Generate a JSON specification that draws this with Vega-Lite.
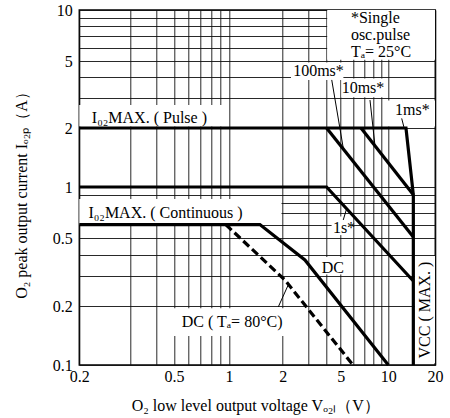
{
  "$schema": "https://vega.github.io/schema/vega-lite/v6.json",
  "width": 356,
  "height": 355,
  "autosize": "none",
  "padding": {"left": 79.3, "top": 10, "right": 14.7, "bottom": 53},
  "background": "white",
  "config": {
    "view": {"stroke": "black", "strokeWidth": 1.5},
    "font": "Liberation Serif",
    "axis": {
      "domain": false,
      "ticks": false,
      "tickSize": 0,
      "grid": true,
      "gridColor": "#111111",
      "gridWidth": 0.9,
      "gridOpacity": 1,
      "labelFont": "Liberation Serif",
      "labelFontSize": 16,
      "labelColor": "black",
      "titleFont": "Liberation Serif",
      "titleFontSize": 16,
      "titleFontWeight": "normal",
      "titleColor": "black",
      "labelOverlap": false,
      "labelFlush": false
    }
  },
  "datasets": {
    "boxes": [
      {"v": 4.04, "v2": 20, "i": 5.08, "i2": 10},
      {"v": 2.28, "v2": 5.2, "i": 3.86, "i2": 4.9},
      {"v": 5.05, "v2": 9.7, "i": 3.05, "i2": 3.94},
      {"v": 9.85, "v2": 20, "i": 2.04, "i2": 2.91},
      {"v": 0.2, "v2": 0.98, "i": 2.04, "i2": 2.74},
      {"v": 0.2, "v2": 1.97, "i": 0.6, "i2": 0.85},
      {"v": 4.33, "v2": 5.9, "i": 0.52, "i2": 0.67},
      {"v": 3.52, "v2": 5.4, "i": 0.306, "i2": 0.387},
      {"v": 0.487, "v2": 2.55, "i": 0.1406, "i2": 0.195},
      {"v": 14.8, "v2": 20, "i": 0.1024, "i2": 0.392}
    ],
    "curves": [
      {"id": "pulse", "ord": 0, "v": 0.2, "i": 2},
      {"id": "pulse", "ord": 1, "v": 13.0, "i": 2},
      {"id": "pulse", "ord": 2, "v": 14.5, "i": 0.9},
      {"id": "pulse", "ord": 3, "v": 14.5, "i": 0.1},
      {"id": "10ms", "ord": 0, "v": 6.72, "i": 2},
      {"id": "10ms", "ord": 1, "v": 14.5, "i": 0.9},
      {"id": "100ms", "ord": 0, "v": 4, "i": 2},
      {"id": "100ms", "ord": 1, "v": 14.5, "i": 0.507},
      {"id": "1s", "ord": 0, "v": 0.2, "i": 1},
      {"id": "1s", "ord": 1, "v": 4, "i": 1},
      {"id": "1s", "ord": 2, "v": 14.5, "i": 0.28},
      {"id": "dc", "ord": 0, "v": 0.2, "i": 0.6},
      {"id": "dc", "ord": 1, "v": 1.49, "i": 0.6},
      {"id": "dc", "ord": 2, "v": 2.84, "i": 0.372},
      {"id": "dc", "ord": 3, "v": 10, "i": 0.1}
    ],
    "dashed": [
      {"id": "dc80", "ord": 0, "v": 0.96, "i": 0.6},
      {"id": "dc80", "ord": 1, "v": 2.07, "i": 0.284},
      {"id": "dc80", "ord": 2, "v": 5.98, "i": 0.1}
    ],
    "leaders": [
      {"id": "l100", "ord": 0, "v": 4.34, "i": 3.86},
      {"id": "l100", "ord": 1, "v": 5.21, "i": 1.55},
      {"id": "l10", "ord": 0, "v": 7.66, "i": 2.93},
      {"id": "l10", "ord": 1, "v": 8.24, "i": 1.62},
      {"id": "l1", "ord": 0, "v": 12.2, "i": 2.28},
      {"id": "l1", "ord": 1, "v": 12.6, "i": 2.03},
      {"id": "l1s", "ord": 0, "v": 5.19, "i": 0.639},
      {"id": "l1s", "ord": 1, "v": 5.46, "i": 0.749},
      {"id": "l80", "ord": 0, "v": 1.89, "i": 0.198},
      {"id": "l80", "ord": 1, "v": 2.18, "i": 0.265}
    ],
    "labels": [
      {"v": 0.221, "i": 2.13, "t": "I₀₂MAX.  ( Pulse )"},
      {"v": 0.215, "i": 0.653, "t": "I₀₂MAX.  (  Continuous  )"},
      {"v": 5.8, "i": 8.35, "t": "*Single\nosc.pulse\nTₐ=  25°C"},
      {"v": 2.36, "i": 4.07, "t": "100ms*"},
      {"v": 5.07, "i": 3.24, "t": "10ms*"},
      {"v": 11.05, "i": 2.39, "t": "1ms*"},
      {"v": 4.42, "i": 0.533, "t": "1s*"},
      {"v": 3.7, "i": 0.313, "t": "DC"},
      {"v": 0.551, "i": 0.157, "t": "DC  ( Tₐ=  80°C)"}
    ],
    "rotated": [
      {"v": 18.57, "i": 0.108, "t": "VCC ( MAX. )"}
    ]
  },
  "encoding": {
    "x": {
      "field": "v",
      "type": "quantitative",
      "scale": {
        "type": "log",
        "nice": false,
        "domain": [0.2, 0.3, 0.4, 0.5, 1, 2, 5, 10, 20],
        "range": [0, 51, 76.7, 94.7, 149.7, 203.4, 261.4, 309, 355.7]
      },
      "axis": {
        "title": "O₂  low level output voltage Vₒ₂ₗ（V）",
        "labelExpr": "indexof([0.2,0.5,1,2,5,10,20], datum.value) >= 0 ? toString(datum.value) : ''",
        "labelPadding": 3,
        "titleX": 176,
        "titleY": 45,
        "titleBaseline": "alphabetic"
      }
    },
    "y": {
      "field": "i",
      "type": "quantitative",
      "scale": {
        "type": "log",
        "nice": false,
        "domain": [0.1, 0.2, 0.5, 1, 2, 5, 10],
        "range": [355, 296, 228, 177, 118, 51, 0]
      },
      "axis": {
        "title": "O₂  peak output current Iₒ₂ₚ（A）",
        "labelExpr": "indexof([0.1,0.2,0.5,1,2,5,10], datum.value) >= 0 ? toString(datum.value) : ''",
        "labelPadding": 7,
        "titleX": -53,
        "titleY": 181,
        "titleAngle": 270,
        "titleAlign": "center",
        "titleBaseline": "alphabetic"
      }
    }
  },
  "layer": [
    {
      "data": {"name": "boxes"},
      "mark": {"type": "rect", "fill": "white", "strokeWidth": 0},
      "encoding": {
        "x2": {"field": "v2"},
        "y2": {"field": "i2"}
      }
    },
    {
      "data": {"name": "curves"},
      "mark": {"type": "line", "color": "black", "strokeWidth": 3.2, "strokeJoin": "miter"},
      "encoding": {
        "detail": {"field": "id", "type": "nominal"},
        "order": {"field": "ord", "type": "quantitative"}
      }
    },
    {
      "data": {"name": "dashed"},
      "mark": {"type": "line", "color": "black", "strokeWidth": 3.2, "strokeDash": [8, 4]},
      "encoding": {
        "detail": {"field": "id", "type": "nominal"},
        "order": {"field": "ord", "type": "quantitative"}
      }
    },
    {
      "data": {"name": "leaders"},
      "mark": {"type": "line", "color": "black", "strokeWidth": 1},
      "encoding": {
        "detail": {"field": "id", "type": "nominal"},
        "order": {"field": "ord", "type": "quantitative"}
      }
    },
    {
      "data": {"name": "labels"},
      "mark": {"type": "text", "align": "left", "baseline": "alphabetic", "fontSize": 16, "font": "Liberation Serif", "lineBreak": "\n", "lineHeight": 16.7, "color": "black"},
      "encoding": {
        "text": {"field": "t", "type": "nominal"}
      }
    },
    {
      "data": {"name": "rotated"},
      "mark": {"type": "text", "align": "left", "baseline": "alphabetic", "angle": 270, "fontSize": 16, "font": "Liberation Serif", "color": "black"},
      "encoding": {
        "text": {"field": "t", "type": "nominal"}
      }
    }
  ]
}
